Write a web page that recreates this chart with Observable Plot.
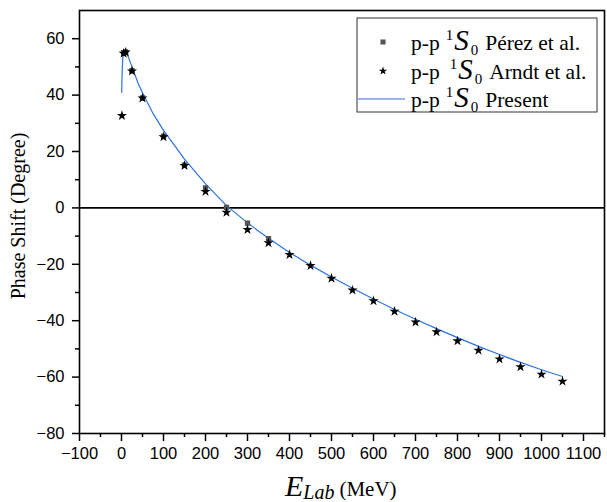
<!DOCTYPE html>
<html>
<head>
<meta charset="utf-8">
<script src="https://cdn.jsdelivr.net/npm/d3@7"></script>
<script src="https://cdn.jsdelivr.net/npm/@observablehq/plot@0.6"></script>
<style>
  html, body { margin: 0; padding: 0; background: white; }
</style>
</head>
<body>
<div id="chart"></div>
<script>
// Data
const arndtEnergy = [1, 5, 10, 25, 50, 100, 150, 200, 250, 300, 350, 400, 450, 500, 550, 600, 650, 700, 750, 800, 850, 900, 950, 1000, 1050];
const arndtPhase = [32.7, 54.8, 55.2, 48.5, 38.9, 25.2, 15.0, 5.8, -1.6, -7.7, -12.4, -16.6, -20.5, -25.0, -29.2, -33.0, -36.7, -40.5, -44.0, -47.2, -50.5, -53.6, -56.4, -59.0, -61.5];

const perezEnergy = [5, 10, 25, 50, 100, 150, 200, 250, 300, 350];
const perezPhase = [54.9, 55.3, 48.7, 39.0, 25.4, 15.2, 7.1, 0.2, -5.4, -10.9];

const presentEnergy = [0.5, 1, 2, 3, 5, 7, 10, 15, 25, 40, 50, 75, 100, 150, 200, 250, 300, 350, 400, 450, 500, 550, 600, 650, 700, 750, 800, 850, 900, 950, 1000, 1050];
const presentPhase = [41, 45, 50, 53, 55, 55.7, 55.5, 54, 50, 44, 40.8, 33.5, 27.5, 17.3, 8.5, 0.8, -5.3, -10.8, -15.8, -20.3, -24.5, -28.5, -32.3, -36, -39.5, -42.8, -46, -49.1, -52, -54.8, -57.4, -59.8];

const xTicks = [-100, 0, 100, 200, 300, 400, 500, 600, 700, 800, 900, 1000, 1100];
const xMinorTicks = [-50, 50, 150, 250, 350, 450, 550, 650, 750, 850, 950, 1050, 1150];
const yTicks = [-80, -60, -40, -20, 0, 20, 40, 60];
const yMinorTicks = [-70, -50, -30, -10, 10, 30, 50];

const arndt = arndtEnergy.map((e, i) => ({e, v: arndtPhase[i]}));
const perez = perezEnergy.map((e, i) => ({e, v: perezPhase[i]}));
const present = presentEnergy.map((e, i) => ({e, v: presentPhase[i]}));

const fmt = d => d < 0 ? "\u2212" + Math.abs(d) : String(d);
const blue = "#2b73df";

const chart = Plot.plot({
  width: 607,
  height: 502,
  marginLeft: 79,
  marginRight: 3,
  marginTop: 10,
  marginBottom: 69,
  x: {domain: [-100, 1150]},
  y: {domain: [-80, 70]},
  style: {fontFamily: "'Liberation Sans', Arial, sans-serif", fontSize: "16px", color: "black", background: "white"},
  marks: [
    Plot.axisX(xTicks, {tickSize: 8, tickPadding: 6, fontSize: 16.5, tickFormat: fmt, label: null, strokeWidth: 1.5}),
    Plot.axisX(xMinorTicks, {tickSize: 4, tickFormat: () => "", label: null, strokeWidth: 1.5}),
    Plot.axisY(yTicks, {tickSize: 7, tickPadding: 8, fontSize: 16.5, tickFormat: fmt, label: null, strokeWidth: 1.5}),
    Plot.axisY(yMinorTicks, {tickSize: 4, tickFormat: () => "", label: null, strokeWidth: 1.5}),
    Plot.ruleY([0], {stroke: "black", strokeWidth: 1.6}),
    Plot.line(present, {x: "e", y: "v", stroke: blue, strokeWidth: 1.2}),
    Plot.dot(perez, {x: "e", y: "v", symbol: "square", fill: "#555", r: 3}),
    Plot.dot(arndt, {x: "e", y: "v", symbol: "star", fill: "black", r: 3.2}),
    Plot.frame({stroke: "black", strokeWidth: 1.6})
  ]
});

document.getElementById("chart").appendChild(chart);

const svg = d3.select(chart);
const serif = "'Liberation Serif', 'Times New Roman', serif";

// Y axis title
svg.append("text")
  .attr("transform", "translate(25,216) rotate(-90)")
  .attr("text-anchor", "middle")
  .attr("font-family", serif)
  .attr("font-size", 20)
  .attr("fill", "black")
  .text("Phase Shift (Degree)");

// X axis title
const xt = svg.append("text")
  .attr("x", 285)
  .attr("y", 496)
  .attr("text-anchor", "start")
  .attr("font-family", serif)
  .attr("fill", "black");
xt.append("tspan").attr("font-size", 30).attr("font-style", "italic").text("E");
xt.append("tspan").attr("font-size", 20).attr("font-style", "italic").attr("dy", 3).text("Lab");
xt.append("tspan").attr("font-size", 21).attr("dy", -3).attr("dx", 5).text("(MeV)");

// Legend
const lg = svg.append("g");
lg.append("rect").attr("x", 357).attr("y", 18).attr("width", 240).attr("height", 94)
  .attr("fill", "white").attr("stroke", "#333").attr("stroke-width", 1);

const rows = [
  {y: 50, label: "P\u00e9rez et al.", kind: "square", gap: 6},
  {y: 79, label: "Arndt et al.", kind: "star", gap: 10},
  {y: 107, label: "Present", kind: "line", gap: 6}
];
rows.forEach(r => {
  if (r.kind === "square") {
    lg.append("path").attr("d", d3.symbol(d3.symbolSquare, 26)())
      .attr("transform", `translate(383,${r.y - 8})`).attr("fill", "#555");
  } else if (r.kind === "star") {
    lg.append("path").attr("d", d3.symbol(d3.symbolStar, 22)())
      .attr("transform", `translate(383,${r.y - 8})`).attr("fill", "black");
  } else {
    lg.append("line").attr("x1", 358).attr("x2", 405).attr("y1", r.y - 8).attr("y2", r.y - 8)
      .attr("stroke", blue).attr("stroke-width", 1.2);
  }
  const t = lg.append("text").attr("x", 411).attr("y", r.y).attr("text-anchor", "start")
    .attr("font-family", serif).attr("fill", "black");
  t.append("tspan").attr("font-size", 21.5).text("p-p");
  t.append("tspan").attr("font-size", 15).attr("dx", r.gap).attr("dy", -10).text("1");
  t.append("tspan").attr("font-size", 29).attr("font-style", "italic").attr("dx", 1).attr("dy", 10).text("S");
  t.append("tspan").attr("font-size", 15).attr("dx", 2).attr("dy", 5).text("0");
  t.append("tspan").attr("font-size", 21.5).attr("dx", 7).attr("dy", -5).text(r.label);
});
</script>
</body>
</html>
